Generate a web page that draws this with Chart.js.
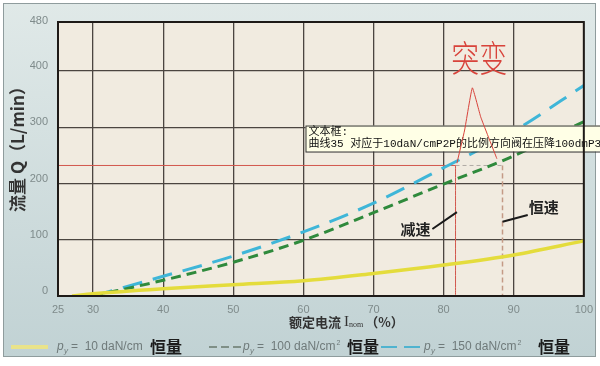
<!DOCTYPE html>
<html>
<head>
<meta charset="utf-8">
<script src="https://cdn.jsdelivr.net/npm/chart.js@4.4.1/dist/chart.umd.min.js"></script>
<style>
  html, body { margin: 0; padding: 0; background: #fff; }
  #wrap { width: 600px; height: 366px; }
</style>
</head>
<body>
<div id="wrap"><canvas id="chart" width="600" height="366"></canvas></div>
<script>
// x: rated current Inom (%), y: flow Q (L/min)
const xTicks = [25, 30, 40, 50, 60, 70, 80, 90, 100];
const yTicks = [0, 100, 200, 300, 400, 480];

const pctYellow = [27, 30, 40, 50, 60, 70, 80, 90, 100];
const flow10 = [0, 4, 13, 20, 27, 40, 55, 73, 98];

const pctCurves = [30, 40, 50, 60, 70, 80, 90, 100];
const flow100 = [0, 28, 60, 99, 148, 199, 249, 310];
const flow150 = [0, 35, 71, 114, 165, 228, 293, 374];

// annotation marks (data units)
const markFlow = 232;
const decelPct = 81.7;
const constPct = 88.4;
const handPct = [81.9, 83.0, 84.1, 85.3, 87.6];
const handFlow = [236, 295, 370, 318, 244];

const pts = (xs, ys) => xs.map((x, i) => ({ x: x, y: ys[i] }));

const gridColor = '#4b4540';
const tickColor = '#7f8b8b';
const HAND_INDEX = 6;

function drawPy(ctx, x, y, rest, sup) {
    ctx.fillStyle = '#6f7a7a';
    ctx.textBaseline = 'middle';
    ctx.textAlign = 'left';
    ctx.font = 'italic 12px "Liberation Sans"';
    ctx.fillText('p', x, y);
    ctx.font = 'italic 8px "Liberation Sans"';
    ctx.fillText('y', x + 7, y + 4);
    ctx.font = '12px "Liberation Sans"';
    ctx.fillText(rest, x + 14, y);
    let w = ctx.measureText(rest).width;
    if (sup) {
        ctx.font = '7px "Liberation Sans"';
        ctx.fillText('2', x + 14 + w + 1, y - 4);
    }
}

const decor = {
    id: 'decor',
    beforeDraw(chart) {
        const { ctx, chartArea: a } = chart;
        ctx.save();
        ctx.fillStyle = '#fff';
        ctx.fillRect(0, 0, chart.width, chart.height);
        const g = ctx.createLinearGradient(0, 3, 0, 357);
        g.addColorStop(0, '#e0e9e8');
        g.addColorStop(1, '#c1d2d4');
        ctx.fillStyle = g;
        ctx.fillRect(3, 3, 593, 354);
        ctx.strokeStyle = '#8f9c9d';
        ctx.lineWidth = 1;
        ctx.strokeRect(3.5, 3.5, 592, 353);
        ctx.fillStyle = '#f1ebe0';
        ctx.fillRect(a.left, a.top, a.right - a.left, a.bottom - a.top);
        ctx.restore();
    },
    beforeDatasetDraw(chart, args) {
        // the text box sits above the curves but under the red pen strokes
        if (args.index !== HAND_INDEX) return;
        const { ctx } = chart;
        const xs = chart.scales.x, ys = chart.scales.y;
        const bx = xs.getPixelForValue(60.3), by = ys.getPixelForValue(303);
        ctx.save();
        ctx.fillStyle = '#ffffe6';
        ctx.fillRect(bx, by, 300, 26);
        ctx.strokeStyle = '#333';
        ctx.lineWidth = 1;
        ctx.strokeRect(bx + 0.5, by + 0.5, 300, 26);
        ctx.fillStyle = '#111';
        ctx.textAlign = 'left';
        ctx.textBaseline = 'middle';
        ctx.font = '11px "Liberation Mono", "Noto Sans CJK SC"';
        ctx.fillText('文本框:', bx + 3, by + 7);
        ctx.fillText('曲线35 对应于10daN/cmP2P的比例方向阀在压降100dmP3P/min', bx + 3, by + 19);
        ctx.restore();
    },
    afterDatasetsDraw(chart) {
        const { ctx, chartArea: a } = chart;
        ctx.save();
        ctx.strokeStyle = '#1e1a17';
        ctx.lineWidth = 2;
        ctx.strokeRect(a.left, a.top, a.right - a.left, a.bottom - a.top);
        ctx.restore();
    },
    afterDraw(chart) {
        const { ctx } = chart;
        const xs = chart.scales.x, ys = chart.scales.y;
        const px = v => xs.getPixelForValue(v);
        const py = v => ys.getPixelForValue(v);
        ctx.save();

        // handwritten note
        ctx.fillStyle = '#d8433b';
        ctx.font = '300 28px "Noto Sans CJK SC"';
        ctx.textAlign = 'center';
        ctx.textBaseline = 'middle';
        ctx.save();
        ctx.translate(px(85.1), py(423));
        ctx.scale(1, 1.3);
        ctx.fillText('突变', 0, 0);
        ctx.restore();

        // labels with leader lines
        ctx.strokeStyle = '#1a1a1a';
        ctx.lineWidth = 2;
        ctx.beginPath();
        ctx.moveTo(px(78.4), py(119)); ctx.lineTo(px(81.9), py(149));
        ctx.moveTo(px(88.4), py(132)); ctx.lineTo(px(92.0), py(144));
        ctx.stroke();
        ctx.fillStyle = '#222';
        ctx.font = 'bold 15px "Noto Sans CJK SC"';
        ctx.fillText('减速', px(76.0), py(119));
        ctx.fillText('恒速', px(94.3), py(157));

        // y axis title
        ctx.save();
        ctx.translate(18, 145);
        ctx.rotate(-Math.PI / 2);
        ctx.fillStyle = '#333';
        ctx.textAlign = 'center';
        ctx.font = 'bold 17px "Noto Sans CJK SC"';
        ctx.fillText('流量 Q（L/min）', 0, 0);
        ctx.restore();

        // x axis title
        let tx = 289, ty = 322;
        ctx.fillStyle = '#333';
        ctx.textAlign = 'left';
        ctx.font = 'bold 13px "Noto Sans CJK SC"';
        ctx.fillText('额定电流 ', tx, ty);
        tx += ctx.measureText('额定电流 ').width;
        ctx.font = '15px "Liberation Serif"';
        ctx.fillText('I', tx, ty);
        tx += ctx.measureText('I').width;
        ctx.font = '8px "Liberation Serif"';
        ctx.fillText('nom', tx, ty + 3);
        tx += ctx.measureText('nom').width + 2;
        ctx.font = 'bold 13px "Noto Sans CJK SC"';
        ctx.fillText('（%）', tx, ty);

        // legend
        const ly = 347;
        ctx.lineWidth = 4;
        ctx.strokeStyle = '#e9e38a';
        ctx.setLineDash([]);
        ctx.beginPath(); ctx.moveTo(11, ly); ctx.lineTo(48, ly); ctx.stroke();
        ctx.lineWidth = 2;
        ctx.strokeStyle = '#7f8f86';
        ctx.setLineDash([8, 4]);
        ctx.beginPath(); ctx.moveTo(209, ly); ctx.lineTo(241, ly); ctx.stroke();
        ctx.strokeStyle = '#4fb3cf';
        ctx.setLineDash([16, 7]);
        ctx.beginPath(); ctx.moveTo(381, ly); ctx.lineTo(420, ly); ctx.stroke();
        ctx.setLineDash([]);

        drawPy(ctx, 57, ly, '=  10 daN/cm', false);
        drawPy(ctx, 243, ly, '=  100 daN/cm', true);
        drawPy(ctx, 424, ly, '=  150 daN/cm', true);
        ctx.fillStyle = '#1c1c1c';
        ctx.font = 'bold 16px "Noto Sans CJK SC"';
        ctx.fillText('恒量', 150, ly);
        ctx.fillText('恒量', 347, ly);
        ctx.fillText('恒量', 538, ly);

        ctx.restore();
    }
};

const line = (data, color, width, dash, order) => ({
    data: data,
    borderColor: color,
    borderWidth: width,
    borderDash: dash,
    pointRadius: 0,
    fill: false,
    cubicInterpolationMode: 'monotone',
    order: order
});

new Chart(document.getElementById('chart'), {
    type: 'line',
    data: {
        datasets: [
            line(pts(pctYellow, flow10), '#e4dc3c', 3.5, [], 1),
            line(pts(pctCurves, flow100), '#2f8a3c', 3, [10, 6], 1),
            line(pts(pctCurves, flow150), '#3fb6d8', 3, [20, 11], 1),
            line([{ x: 25, y: markFlow }, { x: decelPct, y: markFlow }, { x: decelPct, y: 0 }], '#d2574d', 1, [], 5),
            line([{ x: decelPct, y: markFlow }, { x: constPct, y: markFlow }], '#b0aaa4', 1, [4, 3], 5),
            line([{ x: constPct, y: markFlow }, { x: constPct, y: 0 }], '#c49a86', 1.5, [5, 3], 5),
            Object.assign(line(pts(handPct, handFlow), '#d8433b', 1, [], 0), { cubicInterpolationMode: 'default', tension: 0.1 })
        ]
    },
    options: {
        responsive: false,
        animation: false,
        devicePixelRatio: 1,
        layout: { padding: { top: 22, right: 16, left: 0, bottom: 0 } },
        plugins: { legend: { display: false }, tooltip: { enabled: false } },
        scales: {
            x: {
                type: 'linear',
                min: 25,
                max: 100,
                afterBuildTicks: s => { s.ticks = xTicks.map(v => ({ value: v })); },
                afterFit: s => { s.height = 70; },
                grid: { color: gridColor, lineWidth: 1.3, drawTicks: false },
                border: { display: false },
                ticks: { color: tickColor, padding: 7, font: { family: 'Liberation Sans', size: 11 }, maxRotation: 0 }
            },
            y: {
                min: 0,
                max: 487,
                afterBuildTicks: s => { s.ticks = yTicks.map(v => ({ value: v })); },
                afterFit: s => { s.width = 58; },
                grid: {
                    color: c => (c.tick && c.tick.value === 480 ? 'rgba(0,0,0,0)' : gridColor),
                    lineWidth: 1.3,
                    drawTicks: false
                },
                border: { display: false },
                ticks: { color: tickColor, padding: 10, labelOffset: -5, font: { family: 'Liberation Sans', size: 11 } }
            }
        }
    },
    plugins: [decor]
});
</script>
</body>
</html>
